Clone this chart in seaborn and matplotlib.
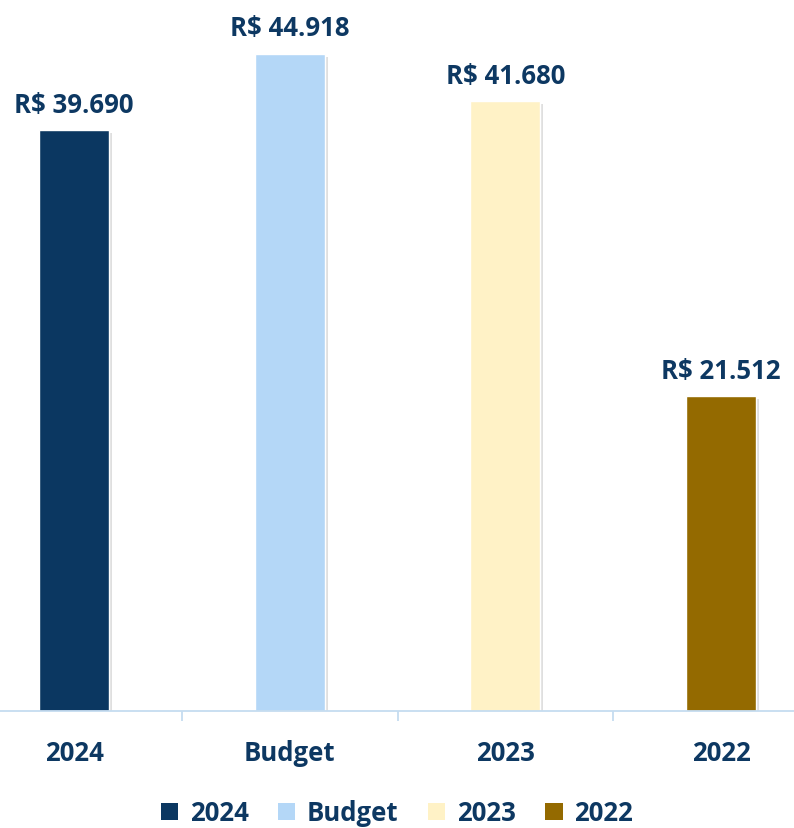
import numpy as np
import pandas as pd
import matplotlib
matplotlib.use("Agg")
import matplotlib.pyplot as plt
import matplotlib.patheffects as pe
from matplotlib.patches import Patch
import seaborn as sns

categories = ["2024", "Budget", "2023", "2022"]
values = [39690, 44918, 41680, 21512]
colors = ["#0B3761", "#B4D7F7", "#FFF2C6", "#946A00"]

text_color = "#0D3862"
axis_color = "#C5DCF0"

df = pd.DataFrame({"cat": categories, "val": values})

sns.set_style("white")
plt.rcParams["font.family"] = ["Open Sans", "DejaVu Sans"]
plt.rcParams["font.weight"] = "bold"

fs = 18.5

fig = plt.figure(figsize=(7.94, 8.29), dpi=100)
ax = fig.add_axes([0, 117 / 829, 1, 712 / 829])

sns.barplot(data=df, x="cat", y="val", hue="cat", palette=colors,
            width=0.325, legend=False, ax=ax, saturation=1)

for bar in ax.patches:
    bar.set_path_effects([pe.SimplePatchShadow(offset=(2, -2), shadow_rgbFace="gray", alpha=0.25),
                          pe.Normal()])

for cont in ax.containers:
    ax.bar_label(cont, fmt=lambda v: "R$ " + f"{v:,.0f}".replace(",", "."),
                 padding=9, fontsize=fs, fontweight="bold", color=text_color)

ax.set_xlim(-0.343, 3.338)
ax.set_ylim(0, 48660)
ax.set_xlabel("")
ax.set_ylabel("")
ax.set_yticks([])

for s in ["top", "left", "right"]:
    ax.spines[s].set_visible(False)
ax.spines["bottom"].set_color(axis_color)
ax.spines["bottom"].set_linewidth(1.3)

ax.tick_params(axis="x", which="major", length=0, pad=20, labelsize=fs,
               labelcolor=text_color)
for lab in ax.get_xticklabels():
    lab.set_fontweight("bold")
ax.set_xticks([0.5, 1.5, 2.5], minor=True)
ax.tick_params(axis="x", which="minor", length=7, width=1.3, color=axis_color,
               direction="out", bottom=True)

handles = [Patch(facecolor=c, edgecolor="none") for c in colors]
fig.legend(handles, categories, loc="center", bbox_to_anchor=(0.5, 15 / 829),
           ncol=4, frameon=False, handlelength=0.67, handleheight=0.67,
           handletextpad=0.45, columnspacing=1.15, labelcolor=text_color,
           prop={"weight": "bold", "size": fs})

fig.savefig("out.png", dpi=100)
